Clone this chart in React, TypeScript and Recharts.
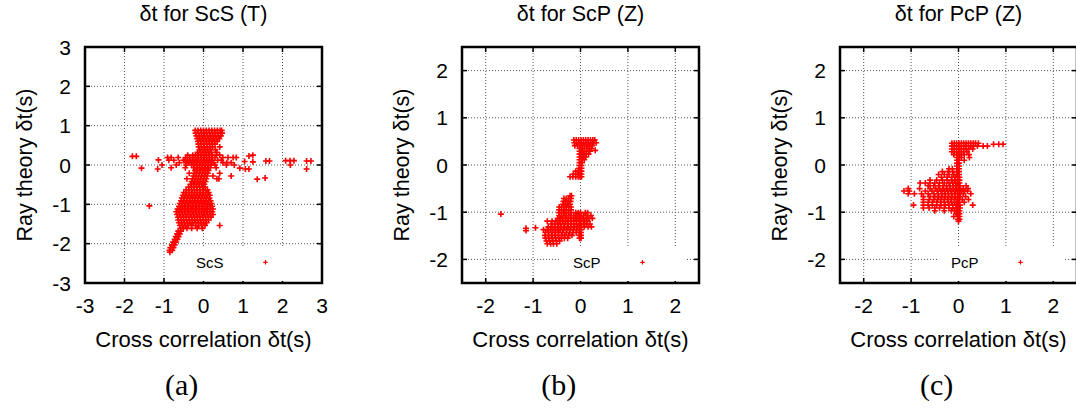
import {
  ScatterChart,
  Scatter,
  XAxis,
  YAxis,
  CartesianGrid,
  Legend,
} from 'recharts';

// each row: [ray theory δt, [cross correlation δt values]]
type Row = [number, number[]];
type Pair = [number, number];

const wideTicks = [-3, -2, -1, 0, 1, 2, 3];
const narrowTicks = [-2, -1, 0, 1, 2];

// ---- ScS (T) ----
const scsUpper: Row[] = [
  [0.88, [-0.21, -0.14, -0.07, 0.0, 0.07, 0.14, 0.21, 0.28, 0.35, 0.42, 0.46]],
  [0.81, [-0.2, -0.13, -0.06, 0.01, 0.08, 0.15, 0.22, 0.29, 0.36, 0.43, 0.47]],
  [0.74, [-0.18, -0.11, -0.04, 0.03, 0.1, 0.17, 0.24, 0.31, 0.38, 0.44]],
  [0.67, [-0.16, -0.09, -0.02, 0.05, 0.12, 0.19, 0.26, 0.33, 0.4]],
  [0.6, [-0.14, -0.07, 0.0, 0.07, 0.14, 0.21, 0.28, 0.35]],
  [0.53, [-0.13, -0.06, 0.01, 0.08, 0.15, 0.22, 0.29]],
  [0.46, [-0.12, -0.05, 0.02, 0.09, 0.16, 0.23, 0.41]],
  [0.39, [-0.1, -0.03, 0.04, 0.11, 0.18, 0.3]],
  [0.32, [-0.15, -0.08, -0.01, 0.06, 0.13, 0.2, 0.34]],
];

const scsArm: Row[] = [
  [0.25, [-0.4, -0.27, -0.2, -0.13, -0.06, 0.01, 0.08, 0.15, 0.22, 0.32, 0.41]],
  [0.19, [-0.91, -0.82, -0.64, -0.45, -0.35, -0.28, -0.21, -0.14, -0.07, 0.0, 0.07, 0.14, 0.21, 0.29, 0.49, 0.62, 0.75, 0.83]],
  [0.12, [-0.88, -0.75, -0.51, -0.47, -0.4, -0.33, -0.26, -0.19, -0.12, -0.05, 0.02, 0.09, 0.16, 0.23, 0.36, 0.45]],
  [0.06, [-0.61, -0.44, -0.37, -0.3, -0.23, -0.16, -0.09, -0.02, 0.05, 0.12, 0.19, 0.26, 0.49, 0.59, 0.7]],
  [0.0, [-0.69, -0.44, -0.3, -0.23, -0.16, -0.09, -0.02, 0.05, 0.12, 0.19, 0.29, 0.58, 0.78]],
  [-0.07, [-0.82, -0.46, -0.25, -0.18, -0.11, -0.04, 0.03, 0.1, 0.17, 0.32]],
];

const scsRidge: Row[] = [
  [-0.14, [-0.22, -0.15, -0.08, -0.01, 0.06, 0.13]],
  [-0.21, [-0.36, -0.24, -0.17, -0.1, -0.03, 0.04, 0.11, 0.41]],
  [-0.28, [-0.26, -0.19, -0.12, -0.05, 0.02, 0.09, 0.24, 0.7]],
  [-0.35, [-0.42, -0.28, -0.21, -0.14, -0.07, 0.0, 0.07, 0.34, 0.39]],
  [-0.42, [-0.3, -0.23, -0.16, -0.09, -0.02, 0.05]],
  [-0.49, [-0.33, -0.26, -0.19, -0.12, -0.05, 0.02]],
  [-0.56, [-0.38, -0.31, -0.24, -0.17, -0.1, -0.03, 0.04]],
  [-0.63, [-0.44, -0.37, -0.3, -0.23, -0.16, -0.09, -0.02, 0.05, 0.1]],
];

const scsBlob: Row[] = [
  [-0.7, [-0.5, -0.43, -0.36, -0.29, -0.22, -0.15, -0.08, -0.01, 0.06, 0.13]],
  [-0.77, [-0.52, -0.45, -0.38, -0.31, -0.24, -0.17, -0.1, -0.03, 0.04, 0.11, 0.16]],
  [-0.84, [-0.55, -0.48, -0.41, -0.34, -0.27, -0.2, -0.13, -0.06, 0.01, 0.08, 0.15]],
  [-0.91, [-0.57, -0.5, -0.43, -0.36, -0.29, -0.22, -0.15, -0.08, -0.01, 0.06, 0.13, 0.18]],
  [-0.98, [-0.6, -0.53, -0.46, -0.39, -0.32, -0.25, -0.18, -0.11, -0.04, 0.03, 0.1, 0.17, 0.2]],
  [-1.05, [-0.62, -0.55, -0.48, -0.41, -0.34, -0.27, -0.2, -0.13, -0.06, 0.01, 0.08, 0.15, 0.22]],
  [-1.12, [-0.66, -0.59, -0.52, -0.45, -0.38, -0.31, -0.24, -0.17, -0.1, -0.03, 0.04, 0.11, 0.18, 0.24]],
  [-1.19, [-0.69, -0.62, -0.55, -0.48, -0.41, -0.34, -0.27, -0.2, -0.13, -0.06, 0.01, 0.08, 0.15, 0.22]],
  [-1.26, [-0.67, -0.6, -0.53, -0.46, -0.39, -0.32, -0.25, -0.18, -0.11, -0.04, 0.03, 0.1, 0.17, 0.24]],
  [-1.33, [-0.65, -0.58, -0.51, -0.44, -0.37, -0.3, -0.23, -0.16, -0.09, -0.02, 0.05, 0.12, 0.19]],
  [-1.4, [-0.64, -0.57, -0.5, -0.43, -0.36, -0.29, -0.22, -0.15, -0.08, -0.01, 0.06, 0.13]],
  [-1.47, [-0.62, -0.55, -0.48, -0.41, -0.34, -0.27, -0.2, -0.13, -0.06, 0.01, 0.08]],
  [-1.54, [-0.6, -0.53, -0.46, -0.39, -0.3, -0.2, -0.12, -0.04, 0.04]],
  [-1.61, [-0.58, -0.51, -0.42, -0.3, -0.16, -0.03]],
];

const scsTail: Row[] = [
  [-1.68, [-0.64, -0.57]],
  [-1.75, [-0.67, -0.6]],
  [-1.82, [-0.7, -0.63]],
  [-1.89, [-0.73, -0.66]],
  [-1.96, [-0.77, -0.7]],
  [-2.03, [-0.8, -0.73]],
  [-2.1, [-0.84, -0.76]],
  [-2.17, [-0.86, -0.79]],
  [-2.22, [-0.85]],
];

// isolated picks, [cross correlation, ray theory]
const scsStray: Pair[] = [
  [-1.8, 0.22], [-1.7, 0.22], [-1.57, -0.08], [-1.14, 0.13], [-1.16, -0.1], [-1.05, 0.0],
  [-1.37, -1.04], [0.41, -1.54], [0.92, -0.08], [1.06, -0.1], [1.15, -0.1], [1.04, 0.09],
  [1.15, 0.23], [1.25, 0.25], [1.25, 0.08], [1.36, -0.36], [1.56, -0.33], [1.58, 0.1],
  [1.67, 0.1], [2.08, 0.11], [2.19, 0.11], [2.29, 0.11], [2.2, 0.0], [2.61, 0.1],
  [2.72, 0.1], [2.61, -0.1],
];

// ---- ScP (Z) ----
const scpUpper: Row[] = [
  [0.53, [-0.14, -0.09, -0.04, 0.01, 0.06, 0.11, 0.16, 0.21, 0.26, 0.3]],
  [0.47, [-0.13, -0.08, -0.03, 0.02, 0.07, 0.12, 0.17, 0.22, 0.28, 0.33]],
  [0.41, [-0.12, -0.06, -0.01, 0.04, 0.09, 0.14, 0.19, 0.25]],
  [0.35, [-0.02, 0.03, 0.08, 0.13, 0.18, 0.23]],
  [0.31, [0.31]],
  [0.29, [-0.02, 0.03, 0.08, 0.13, 0.2]],
  [0.23, [-0.02, 0.03, 0.07, 0.12, 0.17]],
  [0.17, [-0.02, 0.03, 0.07, 0.11]],
  [0.11, [-0.02, 0.03, 0.08]],
  [0.05, [-0.02, 0.03]],
  [-0.01, [-0.02, 0.02]],
  [-0.07, [-0.03, 0.02]],
  [-0.13, [-0.1, -0.05, -0.01, 0.02]],
  [-0.19, [-0.15, -0.1, -0.05, -0.01, 0.02]],
  [-0.25, [-0.22, -0.16, -0.1, -0.05, -0.01, 0.02]],
];

const scpLower: Row[] = [
  [-0.65, [-0.22, -0.19]],
  [-0.71, [-0.35, -0.3, -0.25, -0.2]],
  [-0.77, [-0.36, -0.31, -0.26, -0.21]],
  [-0.83, [-0.37, -0.32, -0.27, -0.22]],
  [-0.89, [-0.45, -0.4, -0.35, -0.3, -0.25, -0.2]],
  [-0.95, [-0.45, -0.4, -0.35, -0.3, -0.25, -0.2]],
  [-1.01, [-0.45, -0.4, -0.35, -0.3, -0.25, -0.2, -0.1, -0.05, 0.0, 0.1, 0.15]],
  [-1.07, [-0.45, -0.4, -0.35, -0.3, -0.25, -0.2, -0.14, -0.08, -0.03, 0.01, 0.07, 0.14, 0.22]],
  [-1.13, [-0.48, -0.42, -0.37, -0.31, -0.26, -0.21, -0.15, -0.1, -0.05, 0.0, 0.05, 0.12, 0.18, 0.25]],
  [-1.19, [-0.7, -0.6, -0.52, -0.45, -0.38, -0.32, -0.26, -0.2, -0.14, -0.08, -0.02, 0.01, 0.08, 0.15]],
  [-1.25, [-0.62, -0.55, -0.48, -0.42, -0.35, -0.28, -0.21, -0.15, -0.09, -0.03, 0.01, 0.06, 0.12, 0.2]],
  [-1.31, [-0.68, -0.6, -0.53, -0.46, -0.4, -0.33, -0.26, -0.2, -0.13, -0.07, -0.02, 0.01, 0.08, 0.16, 0.23]],
  [-1.37, [-0.78, -0.7, -0.63, -0.56, -0.49, -0.43, -0.36, -0.29, -0.22, -0.15, -0.08, -0.02, 0.01]],
  [-1.43, [-0.74, -0.67, -0.6, -0.53, -0.46, -0.38, -0.3, -0.23, -0.16, -0.09, -0.02, 0.01]],
  [-1.49, [-0.75, -0.68, -0.61, -0.54, -0.47, -0.4, -0.33, -0.25, -0.18, -0.02, 0.01]],
  [-1.55, [-0.74, -0.67, -0.6, -0.53, -0.46, -0.4, -0.34, -0.27, -0.02, 0.01]],
  [-1.61, [-0.72, -0.65, -0.58, -0.51, -0.44]],
  [-1.67, [-0.7, -0.63, -0.57, -0.5]],
];

const scpStray: Pair[] = [
  [-1.68, -1.04], [-1.15, -1.34], [-1.15, -1.39], [-0.95, -1.33],
];

// ---- PcP (Z) ----
const pcpUpper: Row[] = [
  [0.46, [-0.14, -0.09, -0.04, 0.01, 0.06, 0.11, 0.16, 0.21, 0.26, 0.31, 0.36, 0.42]],
  [0.44, [0.74, 0.85, 0.94]],
  [0.4, [-0.14, -0.09, -0.04, 0.01, 0.06, 0.11, 0.16, 0.21, 0.26, 0.32, 0.4, 0.52, 0.61]],
  [0.34, [-0.14, -0.09, -0.04, 0.01, 0.06, 0.11, 0.16, 0.22, 0.3]],
  [0.28, [-0.14, -0.09, -0.04, 0.01, 0.06, 0.11, 0.18]],
  [0.22, [-0.1, -0.03, 0.01, 0.06, 0.12, 0.22]],
  [0.16, [-0.03, 0.01, 0.06, 0.23]],
  [0.1, [-0.03, 0.01, 0.12]],
  [0.04, [-0.03, 0.01]],
  [-0.02, [-0.03, 0.01]],
];

const pcpWing: Row[] = [
  [-0.08, [-0.2, -0.13, -0.03, 0.01]],
  [-0.14, [-0.34, -0.22, -0.12, -0.03, 0.01]],
  [-0.2, [-0.42, -0.3, -0.2, -0.1, -0.03, 0.01]],
  [-0.26, [-0.36, -0.24, -0.14, -0.07, -0.02, 0.02]],
  [-0.32, [-0.6, -0.46, -0.34, -0.24, -0.15, -0.08, -0.02, 0.02]],
  [-0.38, [-0.81, -0.7, -0.6, -0.5, -0.4, -0.3, -0.2, -0.12, -0.06, -0.02, 0.02]],
  [-0.44, [-0.64, -0.52, -0.42, -0.33, -0.25, -0.18, -0.11, -0.05, 0.0, 0.03, 0.16]],
  [-0.5, [-1.06, -0.82, -0.6, -0.48, -0.4, -0.32, -0.25, -0.18, -0.11, -0.05, 0.0, 0.03, 0.1, 0.2]],
  [-0.55, [-1.15, -1.04, -0.7, -0.56, -0.45, -0.37, -0.3, -0.23, -0.16, -0.09, -0.03, 0.01, 0.06, 0.13, 0.19]],
  [-0.61, [-1.06, -0.93, -0.78, -0.64, -0.52, -0.43, -0.35, -0.28, -0.21, -0.14, -0.07, -0.01, 0.03, 0.1, 0.26]],
  [-0.67, [-0.74, -0.6, -0.5, -0.42, -0.35, -0.28, -0.21, -0.14, -0.07, -0.01, 0.03, 0.15]],
  [-0.73, [-0.74, -0.62, -0.52, -0.44, -0.37, -0.3, -0.23, -0.16, -0.09, -0.03, 0.01, 0.08, 0.21]],
  [-0.79, [-0.74, -0.64, -0.55, -0.46, -0.38, -0.3, -0.22, -0.15, -0.08, -0.02, 0.02, 0.12]],
  [-0.85, [-0.95, -0.74, -0.64, -0.55, -0.46, -0.37, -0.28, -0.2, -0.12, -0.05, -0.01, 0.03, 0.3]],
  [-0.91, [-0.74, -0.62, -0.5, -0.4, -0.3, -0.2, -0.12, -0.05, -0.01, 0.03]],
  [-0.97, [-0.5, -0.3, -0.15, -0.08, -0.02, 0.02]],
  [-1.03, [-0.05, -0.01, 0.02]],
  [-1.09, [-0.1, -0.01, 0.02]],
  [-1.15, [-0.01, 0.02]],
  [-1.19, [0.0]],
];

const fromRows = (rows: Row[]) => rows.flatMap(([y, xs]) => xs.map((x) => ({ x, y })));
const fromPairs = (pairs: Pair[]) => pairs.map(([x, y]) => ({ x, y }));

const scsPoints = [
  ...fromRows(scsUpper), ...fromRows(scsArm), ...fromRows(scsRidge),
  ...fromRows(scsBlob), ...fromRows(scsTail), ...fromPairs(scsStray),
];
const scpPoints = [...fromRows(scpUpper), ...fromRows(scpLower), ...fromPairs(scpStray)];
const pcpPoints = [...fromRows(pcpUpper), ...fromRows(pcpWing)];

// layout (px)
const PAGE_W = 1076;
const PAGE_H = 408;
const Y_W = 80;
const X_H = 50;
const RIGHT_PAD = 20;
const PLOT_TOP = 47;
const PLOT_W = 237;
const PLOT_H = 236;
const PLOT_BOTTOM = PLOT_TOP + PLOT_H;
const TICK_LEN = 5;
const RED = '#ff0000';
const INK = '#000000';
const SANS = '"Liberation Sans", Arial, Helvetica, sans-serif';
const SERIF = '"Liberation Serif", "Times New Roman", serif';

const panels = [
  { title: 'δt for ScS (T)', name: 'ScS', caption: '(a)', plotLeft: 85, domain: [-3, 3], ticks: wideTicks, points: scsPoints },
  { title: 'δt for ScP (Z)', name: 'ScP', caption: '(b)', plotLeft: 462, domain: [-2.5, 2.5], ticks: narrowTicks, points: scpPoints },
  { title: 'δt for PcP (Z)', name: 'PcP', caption: '(c)', plotLeft: 840, domain: [-2.5, 2.5], ticks: narrowTicks, points: pcpPoints },
];

const PlusMarker = (props: any) => {
  const { cx, cy } = props;
  if (cx == null || cy == null) return null;
  return <path d={`M${cx - 3},${cy}h6M${cx},${cy - 3}v6`} stroke={RED} strokeWidth={1.6} fill="none" />;
};

// tick labels outside, short tick marks pointing into the box on both sides
const XTick = (props: any) => {
  const { x, payload } = props;
  return (
    <g>
      <line x1={x} x2={x} y1={PLOT_BOTTOM} y2={PLOT_BOTTOM - TICK_LEN} stroke={INK} strokeWidth={1.5} />
      <line x1={x} x2={x} y1={PLOT_TOP} y2={PLOT_TOP + TICK_LEN} stroke={INK} strokeWidth={1.5} />
      <text x={x} y={PLOT_BOTTOM + 30} textAnchor="middle" fontSize={21} fontFamily={SANS} fill={INK}>
        {payload.value}
      </text>
    </g>
  );
};

const YTick = (props: any) => {
  const { y, payload } = props;
  return (
    <g>
      <line x1={Y_W} x2={Y_W + TICK_LEN} y1={y} y2={y} stroke={INK} strokeWidth={1.5} />
      <line x1={Y_W + PLOT_W} x2={Y_W + PLOT_W - TICK_LEN} y1={y} y2={y} stroke={INK} strokeWidth={1.5} />
      <text x={Y_W - 14} y={y + 7.5} textAnchor="end" fontSize={21} fontFamily={SANS} fill={INK}>
        {payload.value}
      </text>
    </g>
  );
};

// gnuplot-style key: white box, label then a small sample point
const KeyBox = (props: any) => {
  const entry = props.payload && props.payload[0];
  return (
    <svg width={126} height={35} style={{ display: 'block', background: '#fff' }}>
      <text x={13} y={21.7} fontSize={15} fontFamily={SANS} fill={INK}>
        {entry ? entry.value : ''}
      </text>
      <path d="M80.3,16.3h4.4M82.5,14.1v4.4" stroke={RED} strokeWidth={1.2} />
    </svg>
  );
};

function Panel({ p }: { p: (typeof panels)[number] }) {
  const [lo, hi] = p.domain;
  return (
    <div style={{ position: 'absolute', left: p.plotLeft - Y_W, top: 0 }}>
      <ScatterChart
        width={Y_W + PLOT_W + RIGHT_PAD}
        height={PAGE_H}
        margin={{ top: PLOT_TOP, right: RIGHT_PAD, bottom: PAGE_H - PLOT_BOTTOM - X_H, left: 0 }}
      >
        <CartesianGrid stroke="#555" strokeDasharray="1 2" strokeWidth={1} />
        <XAxis
          type="number"
          dataKey="x"
          domain={[lo, hi]}
          ticks={p.ticks}
          interval={0}
          allowDataOverflow
          height={X_H}
          tick={XTick}
          tickLine={false}
          axisLine={false}
          tickSize={0}
          tickMargin={0}
        />
        <YAxis
          type="number"
          dataKey="y"
          domain={[lo, hi]}
          ticks={p.ticks}
          interval={0}
          allowDataOverflow
          width={Y_W}
          tick={YTick}
          tickLine={false}
          axisLine={false}
          tickSize={0}
          tickMargin={0}
        />
        <Scatter name={p.name} data={p.points} fill={RED} shape={PlusMarker} isAnimationActive={false} />
        <Legend
          layout="horizontal"
          verticalAlign="middle"
          align="center"
          content={KeyBox}
          wrapperStyle={{ left: Y_W + 97.5, top: PLOT_TOP + 199, width: 126, height: 35 }}
        />
      </ScatterChart>
    </div>
  );
}

export default function App() {
  return (
    <div
      style={{
        position: 'absolute',
        left: 0,
        top: 0,
        width: PAGE_W,
        height: PAGE_H,
        overflow: 'hidden',
        background: '#fff',
      }}
    >
      {panels.map((p) => (
        <Panel key={p.name} p={p} />
      ))}
      <svg
        width={PAGE_W}
        height={PAGE_H}
        style={{ position: 'absolute', left: 0, top: 0, pointerEvents: 'none' }}
      >
        {panels.map((p) => {
          const cx = p.plotLeft + PLOT_W / 2;
          const labelX = p.plotLeft - 53.4;
          const midY = PLOT_TOP + PLOT_H / 2;
          return (
            <g key={p.name}>
              {/* plot border */}
              <rect
                x={p.plotLeft}
                y={PLOT_TOP}
                width={PLOT_W}
                height={PLOT_H}
                fill="none"
                stroke={INK}
                strokeWidth={2.5}
              />
              <text x={cx} y={20.7} textAnchor="middle" fontSize={21.5} fontFamily={SANS} fill={INK}>
                {p.title}
              </text>
              <text x={cx} y={346.5} textAnchor="middle" fontSize={22} fontFamily={SANS} fill={INK}>
                Cross correlation δt(s)
              </text>
              <text
                x={labelX}
                y={midY}
                textAnchor="middle"
                fontSize={21.5}
                fontFamily={SANS}
                fill={INK}
                transform={`rotate(-90 ${labelX} ${midY})`}
              >
                Ray theory δt(s)
              </text>
              <text x={p.plotLeft + 96.7} y={395} textAnchor="middle" fontSize={30} fontFamily={SERIF} fill={INK}>
                {p.caption}
              </text>
            </g>
          );
        })}
      </svg>
    </div>
  );
}
